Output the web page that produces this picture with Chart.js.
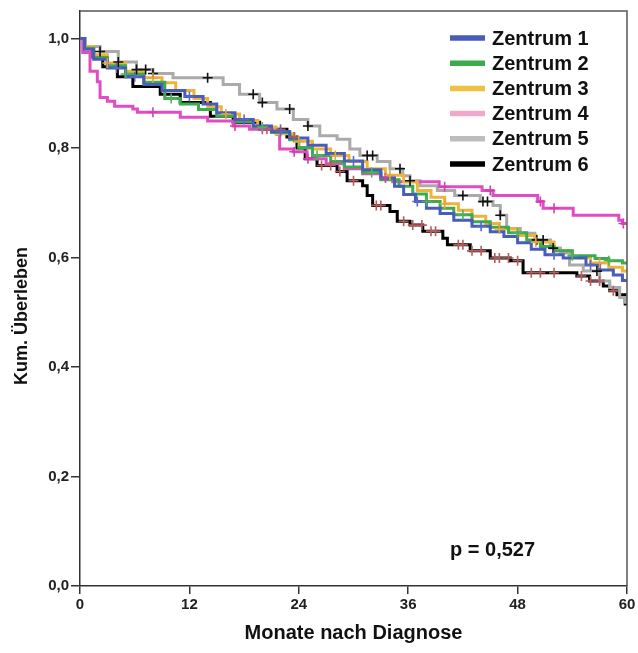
<!DOCTYPE html>
<html>
<head>
<meta charset="utf-8">
<script src="https://cdn.jsdelivr.net/npm/chart.js@4/dist/chart.umd.min.js"></script>
<style>
  html, body { margin: 0; padding: 0; background: #fff; }
  #wrap { width: 638px; height: 653px; }
</style>
</head>
<body>
<div id="wrap"><canvas id="km"></canvas></div>
<script>
// Kaplan-Meier curves per centre: event times (months) and survival after each step
const centres = ['Zentrum 1', 'Zentrum 2', 'Zentrum 3', 'Zentrum 4', 'Zentrum 5', 'Zentrum 6'];

const months1 = [0, 0.5, 1.5, 3, 5, 7, 9, 11.5, 13.5, 15, 17, 19, 21, 23, 25, 27, 29, 31, 33, 34.5, 35.5, 36.8, 38, 39.5, 41, 43, 45, 46.5, 48, 49.5, 51, 53, 55.5, 57, 58.5, 59.5, 60];
const surv1   = [1, 0.98, 0.962, 0.946, 0.93, 0.916, 0.905, 0.894, 0.88, 0.864, 0.852, 0.84, 0.83, 0.818, 0.805, 0.79, 0.776, 0.76, 0.745, 0.73, 0.715, 0.702, 0.69, 0.68, 0.668, 0.657, 0.647, 0.638, 0.627, 0.615, 0.605, 0.599, 0.586, 0.577, 0.568, 0.558, 0.558];

const months2 = [0, 0.5, 1.5, 3, 5, 7, 9.3, 11, 13, 15, 17, 19, 21, 23, 24, 25.5, 27.5, 29, 31, 33, 35, 36.5, 38, 39.5, 41, 43, 45, 47, 49, 50.5, 52, 54, 56.5, 58, 59.5, 60];
const surv2   = [1, 0.982, 0.965, 0.95, 0.935, 0.92, 0.89, 0.88, 0.87, 0.858, 0.848, 0.838, 0.828, 0.815, 0.8, 0.786, 0.775, 0.765, 0.755, 0.742, 0.73, 0.716, 0.702, 0.69, 0.678, 0.665, 0.655, 0.645, 0.632, 0.62, 0.612, 0.603, 0.598, 0.594, 0.59, 0.59];

const months3 = [0, 0.5, 1.5, 3, 5, 7, 9, 10.5, 12.5, 14, 15.5, 17.5, 19.5, 21.5, 23.5, 25.5, 27.5, 29.5, 31.5, 33.5, 35.5, 37, 38.5, 40, 41.5, 43, 44.5, 46, 48, 50, 52, 54, 56, 58, 59.5, 60];
const surv3   = [1, 0.985, 0.97, 0.955, 0.94, 0.928, 0.919, 0.905, 0.89, 0.875, 0.862, 0.85, 0.838, 0.826, 0.812, 0.798, 0.786, 0.775, 0.762, 0.75, 0.738, 0.722, 0.71, 0.698, 0.686, 0.675, 0.662, 0.652, 0.64, 0.628, 0.612, 0.6, 0.59, 0.582, 0.575, 0.575];

const months4 = [0, 0.3, 1.1, 1.9, 2.2, 3.0, 3.8, 5.8, 6.3, 11.0, 14.0, 16.8, 18.6, 21.6, 21.9, 23.4, 24.9, 27, 29, 31, 33, 34.3, 39.4, 44.1, 45.3, 50.2, 50.8, 54.1, 59.1, 59.5, 60];
const surv4   = [1, 0.974, 0.94, 0.921, 0.892, 0.885, 0.876, 0.871, 0.865, 0.856, 0.849, 0.84, 0.834, 0.825, 0.798, 0.793, 0.78, 0.771, 0.762, 0.753, 0.745, 0.738, 0.729, 0.722, 0.713, 0.702, 0.69, 0.677, 0.668, 0.662, 0.662];

const months5 = [0, 0.6, 2.2, 4.2, 6.2, 8.0, 10.2, 15.7, 17.5, 19.7, 21.6, 23.4, 25.0, 26.3, 28.2, 29.6, 30.7, 32.6, 34.0, 35.4, 36.2, 37.3, 39.2, 41.1, 43.9, 45.3, 46.1, 46.8, 48.3, 49.9, 51.6, 52.7, 53.7, 55.2, 57.0, 58.1, 59.2, 59.8, 60];
const surv5   = [1, 0.985, 0.976, 0.957, 0.943, 0.936, 0.928, 0.916, 0.898, 0.883, 0.871, 0.852, 0.84, 0.822, 0.816, 0.798, 0.786, 0.775, 0.762, 0.749, 0.74, 0.731, 0.722, 0.713, 0.702, 0.695, 0.677, 0.653, 0.644, 0.632, 0.617, 0.608, 0.586, 0.575, 0.557, 0.545, 0.527, 0.518, 0.518];

const months6 = [0, 0.5, 1.4, 2.5, 4.1, 5.8, 8.8, 11.0, 14.3, 16.8, 19.7, 22.7, 23.8, 24.7, 26.0, 28.2, 29.3, 31.0, 31.5, 32.1, 34.0, 34.8, 36.2, 37.6, 39.8, 40.3, 42.8, 45.0, 47.2, 48.6, 54.5, 55.9, 57.4, 58.1, 58.9, 59.8, 60];
const surv6   = [1, 0.985, 0.966, 0.948, 0.93, 0.912, 0.898, 0.883, 0.858, 0.847, 0.834, 0.82, 0.8, 0.78, 0.768, 0.757, 0.74, 0.731, 0.713, 0.695, 0.684, 0.666, 0.659, 0.648, 0.635, 0.623, 0.612, 0.599, 0.594, 0.572, 0.566, 0.557, 0.548, 0.539, 0.532, 0.515, 0.515];

// censored observations (months)
const censor1 = [4, 6, 12, 18, 22, 30, 37, 44, 52, 56];
const censor2 = [5, 10, 20, 26, 32, 38, 42, 48, 54, 58];
const censor3 = [3, 8, 16, 24, 28, 34, 40, 46, 50, 57];
const censor4 = [8, 17, 20, 23.5, 25, 33.5, 40, 45, 50.5, 52, 59.6];
const censor5 = [2.2, 4.2, 6.2, 7.2, 8.0, 14.0, 19.0, 20.0, 23.0, 25.0, 31.5, 32.1, 35.1, 36.2, 42.0, 44.2, 44.7, 46.1, 50.1, 50.8, 51.9, 56.7];
const censor6 = [20.5, 22, 23.5, 26.5, 27.5, 28.5, 30, 32.5, 33, 35.5, 36.5, 37.5, 38.5, 39, 41.5, 42, 43, 44, 45.5, 46, 47, 48, 49.5, 50.5, 52, 55, 56, 57, 58.5];

const xTicks = [0, 12, 24, 36, 48, 60];
const yTicks = [0, 0.2, 0.4, 0.6, 0.8, 1.0];
const pValue = 'p = 0,527';

const lineColors   = ['#4a5cba', '#3cab4e', '#eeb43a', '#e04cc2', '#aaaaaa', '#000000'];
const legendColors = ['#4a5cba', '#3cab4e', '#f0c040', '#f2a8ca', '#bdbdbd', '#000000'];
const censorColors = ['#5868c4', '#4fb35c', '#e3a640', '#d040b0', '#111111', '#b45c5c'];

const allMonths = [months1, months2, months3, months4, months5, months6];
const allSurv = [surv1, surv2, surv3, surv4, surv5, surv6];
const allCensor = [censor1, censor2, censor3, censor4, censor5, censor6];

// value of a step curve at time t
function survAt(months, surv, t) {
  let v = surv[0];
  for (let i = 0; i < months.length; i++) {
    if (months[i] <= t) v = surv[i];
  }
  return v;
}

const datasets = [];
centres.forEach((name, i) => {
  datasets.push({
    type: 'line',
    label: name,
    data: allMonths[i].map((m, k) => ({ x: m, y: allSurv[i][k] })),
    borderColor: lineColors[i],
    borderWidth: 3,
    stepped: 'before',
    pointRadius: 0,
    fill: false,
    order: 2
  });
});
centres.forEach((name, i) => {
  datasets.push({
    type: 'scatter',
    label: name + ' zensiert',
    data: allCensor[i].map(m => ({ x: m, y: survAt(allMonths[i], allSurv[i], m) })),
    pointStyle: 'cross',
    pointRadius: 5,
    pointBorderWidth: 1.6,
    borderColor: censorColors[i],
    backgroundColor: censorColors[i],
    showLine: false,
    order: 1
  });
});

const tickFont = { family: "'Liberation Sans', Arial, sans-serif", size: 15, weight: 'bold' };
const labelFont = "bold 20px 'Liberation Sans', Arial, sans-serif";

// frame, axis titles, legend and p-value
const decorations = {
  id: 'decorations',
  afterDraw(chart) {
    const ctx = chart.ctx;
    const a = chart.chartArea;
    ctx.save();
    ctx.strokeStyle = '#555';
    ctx.lineWidth = 1.5;
    ctx.beginPath();
    ctx.moveTo(a.left, a.top);
    ctx.lineTo(a.right, a.top);
    ctx.lineTo(a.right, a.bottom);
    ctx.stroke();

    ctx.fillStyle = '#111';
    ctx.font = labelFont;
    ctx.textAlign = 'center';
    ctx.textBaseline = 'middle';
    ctx.fillText('Monate nach Diagnose', (a.left + a.right) / 2, 633);

    ctx.save();
    ctx.translate(22, 316);
    ctx.rotate(-Math.PI / 2);
    ctx.font = "bold 18px 'Liberation Sans', Arial, sans-serif";
    ctx.fillText('Kum. Überleben', 0, 0);
    ctx.restore();

    ctx.textAlign = 'left';
    ctx.font = labelFont;
    centres.forEach((name, i) => {
      const y = 38 + i * 25.2;
      ctx.strokeStyle = legendColors[i];
      ctx.lineWidth = 5.5;
      ctx.beginPath();
      ctx.moveTo(450, y);
      ctx.lineTo(485, y);
      ctx.stroke();
      ctx.fillStyle = '#111';
      ctx.fillText(name, 492, y + 1);
    });

    ctx.textBaseline = 'alphabetic';
    ctx.fillText(pValue, 450, 556);
    ctx.restore();
  }
};

new Chart(document.getElementById('km'), {
  data: { datasets: datasets },
  options: {
    responsive: true,
    maintainAspectRatio: false,
    animation: false,
    layout: { padding: { top: 10, right: 11, left: 0, bottom: 0 } },
    plugins: {
      legend: { display: false },
      tooltip: { enabled: false }
    },
    scales: {
      x: {
        type: 'linear',
        min: 0,
        max: 60,
        afterBuildTicks: s => { s.ticks = xTicks.map(v => ({ value: v })); },
        afterFit: s => { s.height = 67; },
        ticks: { font: tickFont, color: '#222', padding: 2, maxRotation: 0 },
        grid: { drawOnChartArea: false, drawTicks: true, tickLength: 8, color: '#333', lineWidth: 1.5 },
        border: { display: true, color: '#333', width: 1.5 }
      },
      y: {
        type: 'linear',
        min: 0,
        max: 1.05,
        afterBuildTicks: s => { s.ticks = yTicks.map(v => ({ value: v })); },
        afterFit: s => { s.width = 80; },
        ticks: {
          font: tickFont,
          color: '#222',
          padding: 2,
          callback: v => v.toFixed(1).replace('.', ',')
        },
        grid: { drawOnChartArea: false, drawTicks: true, tickLength: 9, color: '#333', lineWidth: 1.5 },
        border: { display: true, color: '#333', width: 1.5 }
      }
    }
  },
  plugins: [decorations]
});
</script>
</body>
</html>
